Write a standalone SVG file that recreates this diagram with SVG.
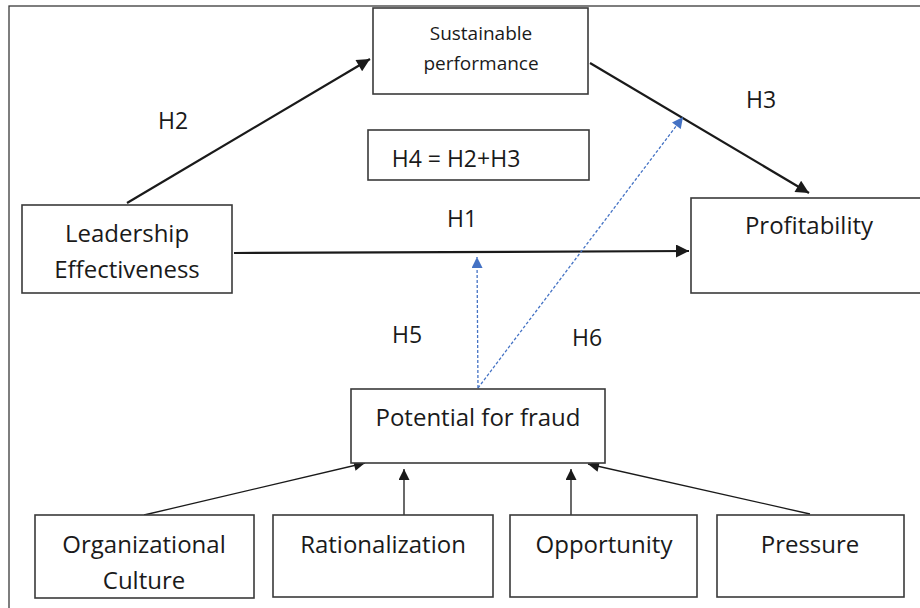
<svg xmlns="http://www.w3.org/2000/svg" width="920" height="608" viewBox="0 0 920 608">
<defs>
<style>
.box{fill:#fff;stroke:#3a3a3a;stroke-width:1.6}
.t{font-family:"Open Sans","Liberation Sans",sans-serif;fill:#1a1a1a;text-anchor:middle}
.big{font-size:24px}
.sm{font-size:19px}
.lab{font-size:23px}
.c{stroke:#1a1a1a;fill:none}
.thick{stroke-width:2.2}
.thin{stroke-width:1.3}
.blue{stroke:#4472C4;stroke-width:1.3;stroke-dasharray:3,2;fill:none}
</style>
<marker id="ab" viewBox="0 0 10 10" refX="10" refY="5" markerWidth="15" markerHeight="13" markerUnits="userSpaceOnUse" orient="auto"><path d="M0,0 L10,5 L0,10 Z" fill="#1a1a1a"/></marker>
<marker id="as" viewBox="0 0 10 10" refX="10" refY="5" markerWidth="13" markerHeight="11" markerUnits="userSpaceOnUse" orient="auto"><path d="M0,0 L10,5 L0,10 Z" fill="#1a1a1a"/></marker>
<marker id="abl" viewBox="0 0 10 10" refX="10" refY="5" markerWidth="13" markerHeight="11" markerUnits="userSpaceOnUse" orient="auto"><path d="M0,0 L10,5 L0,10 Z" fill="#4472C4"/></marker>
</defs>
<rect width="920" height="608" fill="#fff"/>
<rect x="9" y="6" width="1000" height="700" fill="none" stroke="#3a3a3a" stroke-width="1.3"/>

<g id="connectors">
<line class="c thick" x1="127" y1="203" x2="370" y2="59" marker-end="url(#ab)"/>
<line class="c thick" x1="590" y1="63" x2="809" y2="193" marker-end="url(#ab)"/>
<line class="c thick" x1="234" y1="253" x2="689" y2="251" marker-end="url(#ab)"/>
<line class="blue" x1="478" y1="388" x2="477" y2="257" marker-end="url(#abl)"/>
<line class="blue" x1="478" y1="388" x2="683" y2="117" marker-end="url(#abl)"/>
<line class="c thin" x1="144" y1="515" x2="365" y2="463" marker-end="url(#as)"/>
<line class="c thin" x1="404" y1="515" x2="404" y2="469" marker-end="url(#as)"/>
<line class="c thin" x1="571" y1="516" x2="571" y2="469" marker-end="url(#as)"/>
<line class="c thin" x1="810" y1="514" x2="588" y2="464" marker-end="url(#as)"/>
</g>

<g id="labels">
<text class="t lab" x="173" y="129">H2</text>
<text class="t lab" x="761" y="108">H3</text>
<text class="t lab" x="462" y="227">H1</text>
<text class="t lab" x="407" y="343">H5</text>
<text class="t lab" x="587" y="346">H6</text>
</g>

<g id="sustainable">
<rect class="box" x="373" y="8" width="215" height="86"/>
<text class="t sm" x="481" y="40">Sustainable</text>
<text class="t sm" x="481" y="70">performance</text>
</g>
<g id="h4">
<rect class="box" x="368" y="130" width="221" height="50"/>
<text class="t lab" x="456" y="167">H4 = H2+H3</text>
</g>
<g id="leadership">
<rect class="box" x="22" y="205" width="210" height="88"/>
<text class="t big" x="127" y="242">Leadership</text>
<text class="t big" x="127" y="278">Effectiveness</text>
</g>
<g id="profitability">
<rect class="box" x="691" y="198" width="300" height="95"/>
<text class="t big" x="809" y="234">Profitability</text>
</g>
<g id="fraud">
<rect class="box" x="351" y="389" width="254" height="74"/>
<text class="t big" x="478" y="426">Potential for fraud</text>
</g>
<g id="culture">
<rect class="box" x="35" y="515" width="219" height="83"/>
<text class="t big" x="144" y="553">Organizational</text>
<text class="t big" x="144" y="589">Culture</text>
</g>
<g id="rationalization">
<rect class="box" x="273" y="515" width="220" height="82"/>
<text class="t big" x="383" y="553">Rationalization</text>
</g>
<g id="opportunity">
<rect class="box" x="510" y="515" width="187" height="82"/>
<text class="t big" x="604" y="553">Opportunity</text>
</g>
<g id="pressure">
<rect class="box" x="717" y="515" width="187" height="82"/>
<text class="t big" x="810" y="553">Pressure</text>
</g>
</svg>
